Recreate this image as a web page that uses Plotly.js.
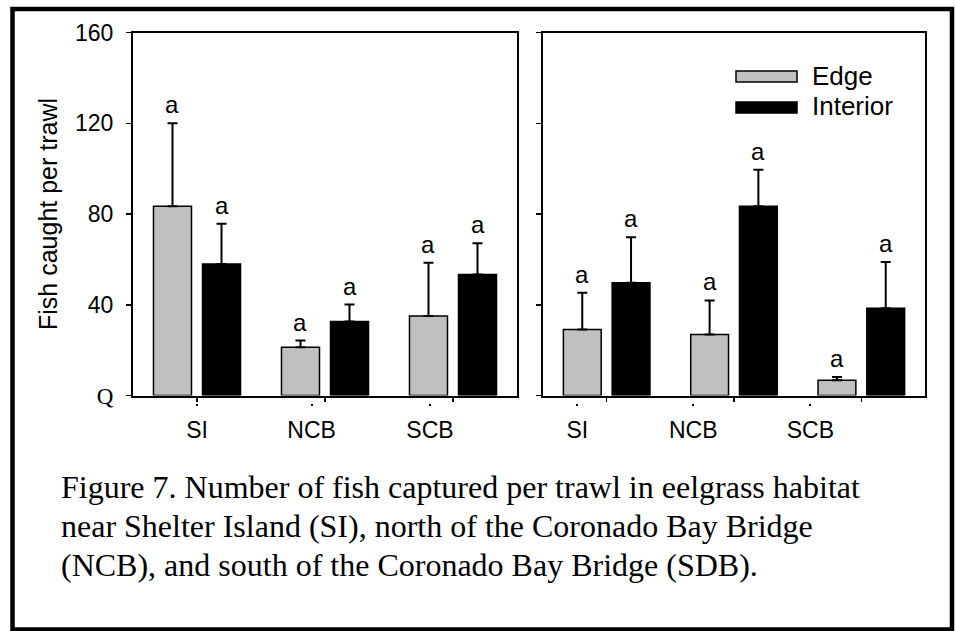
<!DOCTYPE html>
<html>
<head>
<meta charset="utf-8">
<script src="https://cdn.plot.ly/plotly-3.0.1.min.js"></script>
<style>
html,body{margin:0;padding:0;background:#fff;}
#chart{width:956px;height:631px;}
</style>
</head>
<body>
<div id="chart"></div>
<script>
// ---- data ----
const categories = ['SI', 'NCB', 'SCB'];
const seriesNames = ['Edge', 'Interior'];

const leftEdge = [83.4, 21.3, 35.0];
const leftEdgeErr = [36.6, 2.9, 23.5];
const leftInterior = [58.0, 32.6, 53.3];
const leftInteriorErr = [17.7, 7.5, 13.8];

const rightEdge = [29.1, 26.9, 6.7];
const rightEdgeErr = [16.2, 15.0, 1.5];
const rightInterior = [49.7, 83.4, 38.5];
const rightInteriorErr = [20.1, 16.1, 20.3];

const leftEdgeLetters = ['a', 'a', 'a'];
const leftInteriorLetters = ['a', 'a', 'a'];
const rightEdgeLetters = ['a', 'a', 'a'];
const rightInteriorLetters = ['a', 'a', 'a'];

const yTickVals = [0, 40, 80, 120, 160];
const yTickText = ['<span style="font-family:Liberation Serif">Q</span>', '40', '80', '120', '160'];

const captionLines = [
  'Figure 7. Number of fish captured per trawl in eelgrass habitat',
  'near Shelter Island (SI), north of the Coronado Bay Bridge',
  '(NCB), and south of the Coronado Bay Bridge (SDB).'
];

// ---- styling / layout constants ----
const W = 956, H = 631;
const SANS = 'Liberation Sans, Arial, sans-serif';
const SERIF = 'Liberation Serif, Times New Roman, serif';
const EDGE_COLOR = '#c0c0c0';
const INT_COLOR = '#000000';
const BAR_W = 0.297;
const EDGE_OFF = -0.34, INT_OFF = 0.043;
const EDGE_C = EDGE_OFF + BAR_W / 2, INT_C = INT_OFF + BAR_W / 2;
const leftLabelShift = [0, -0.105, -0.18];
const rightLabelShift = [-0.23, -0.32, -0.40];
const CAPTION_TOP = 467, CAPTION_STEP = 39;

const xIdx = categories.map((c, i) => i);
const px = v => v / W;
const py = v => (H - v) / H;

function barTrace(y, err, name, color, off, xa, ya) {
  return {
    type: 'bar', x: xIdx, y: y, name: name, xaxis: xa, yaxis: ya,
    width: BAR_W, offset: off, showlegend: false,
    marker: {color: color, line: {color: '#000', width: 1.5}},
    error_y: {type: 'data', array: err, arrayminus: err.map(() => 0), symmetric: false,
              color: '#000', thickness: 2, width: 5},
    hoverinfo: 'skip'
  };
}

const data = [
  barTrace(leftEdge, leftEdgeErr, seriesNames[0], EDGE_COLOR, EDGE_OFF, 'x', 'y'),
  barTrace(leftInterior, leftInteriorErr, seriesNames[1], INT_COLOR, INT_OFF, 'x', 'y'),
  barTrace(rightEdge, rightEdgeErr, seriesNames[0], EDGE_COLOR, EDGE_OFF, 'x2', 'y2'),
  barTrace(rightInterior, rightInteriorErr, seriesNames[1], INT_COLOR, INT_OFF, 'x2', 'y2'),
  {type: 'scatter', x: [], y: [], xaxis: 'x3', yaxis: 'y', showlegend: false, hoverinfo: 'skip'},
  {type: 'scatter', x: [], y: [], xaxis: 'x4', yaxis: 'y2', showlegend: false, hoverinfo: 'skip'}
];

const annotations = [];
function letters(vals, errs, labs, cOff, xr, yr) {
  vals.forEach((v, i) => {
    annotations.push({
      xref: xr, yref: yr, x: i + cOff, y: v + errs[i], text: labs[i],
      showarrow: false, yanchor: 'bottom', xanchor: 'center', yshift: 3,
      font: {family: SANS, size: 24, color: '#000'}
    });
  });
}
letters(leftEdge, leftEdgeErr, leftEdgeLetters, EDGE_C, 'x', 'y');
letters(leftInterior, leftInteriorErr, leftInteriorLetters, INT_C, 'x', 'y');
letters(rightEdge, rightEdgeErr, rightEdgeLetters, EDGE_C, 'x2', 'y2');
letters(rightInterior, rightInteriorErr, rightInteriorLetters, INT_C, 'x2', 'y2');

// legend text
annotations.push({xref: 'paper', yref: 'paper', x: px(810), y: py(76), text: seriesNames[0],
  showarrow: false, xanchor: 'left', yanchor: 'middle', font: {family: SANS, size: 26, color: '#000'}});
annotations.push({xref: 'paper', yref: 'paper', x: px(810), y: py(106), text: seriesNames[1],
  showarrow: false, xanchor: 'left', yanchor: 'middle', font: {family: SANS, size: 26, color: '#000'}});

// caption, one annotation per line
captionLines.forEach((line, k) => {
  annotations.push({xref: 'paper', yref: 'paper', x: px(59), y: py(CAPTION_TOP + k * CAPTION_STEP),
    text: line, showarrow: false, xanchor: 'left', yanchor: 'top', align: 'left',
    font: {family: SERIF, size: 32, color: '#000'}});
});

const shapes = [
  {type: 'rect', xref: 'paper', yref: 'paper', x0: px(12.5), x1: px(952), y0: py(629.5), y1: py(9),
   line: {color: '#000', width: 4.5}, fillcolor: 'rgba(0,0,0,0)'},
  {type: 'rect', xref: 'paper', yref: 'paper', x0: px(736), x1: px(797), y0: py(82), y1: py(71),
   line: {color: '#000', width: 1.5}, fillcolor: EDGE_COLOR},
  {type: 'rect', xref: 'paper', yref: 'paper', x0: px(736), x1: px(797), y0: py(113), y1: py(102),
   line: {color: '#000', width: 1.5}, fillcolor: INT_COLOR}
];

const yDomain = [py(395.5), py(32.5)];
const commonX = {
  range: [-0.5, 2.5], tickvals: xIdx, ticks: 'outside', ticklen: 4, tickwidth: 1.5, tickcolor: '#000',
  showticklabels: false, showline: true, linewidth: 2, linecolor: '#000', mirror: true,
  showgrid: false, zeroline: false, fixedrange: true
};
const commonY = {
  domain: yDomain, range: [0, 160], tickvals: yTickVals, ticktext: yTickText,
  ticks: 'outside', ticklen: 5, tickwidth: 1.5, tickcolor: '#000',
  showline: true, linewidth: 2, linecolor: '#000', mirror: true,
  showgrid: false, zeroline: false, fixedrange: true, ticklabelstandoff: 8,
  tickfont: {family: SANS, size: 23, color: '#000'}
};
const labelAxis = {
  range: [-0.5, 2.5], anchor: 'free', position: py(403),
  ticks: 'outside', ticklen: 2, tickwidth: 2, tickcolor: '#000',
  showline: false, showgrid: false, zeroline: false, fixedrange: true, ticklabelstandoff: 4,
  ticktext: categories, tickfont: {family: SANS, size: 23, color: '#000'}
};

const layout = {
  width: W, height: H,
  margin: {l: 0, r: 0, t: 0, b: 0, pad: 0},
  paper_bgcolor: '#fff', plot_bgcolor: '#fff',
  showlegend: false,
  barmode: 'overlay',
  xaxis: Object.assign({}, commonX, {domain: [px(133), px(517)], anchor: 'y'}),
  yaxis: Object.assign({}, commonY, {anchor: 'x',
    title: {text: 'Fish caught per trawl', font: {family: SANS, size: 25, color: '#000'}, standoff: 10}}),
  xaxis2: Object.assign({}, commonX, {domain: [px(543), px(925)], anchor: 'y2'}),
  yaxis2: Object.assign({}, commonY, {anchor: 'x2', showticklabels: false}),
  xaxis3: Object.assign({}, labelAxis, {overlaying: 'x', tickvals: xIdx.map(i => i + leftLabelShift[i])}),
  xaxis4: Object.assign({}, labelAxis, {overlaying: 'x2', tickvals: xIdx.map(i => i + rightLabelShift[i])}),
  annotations: annotations,
  shapes: shapes
};

Plotly.newPlot('chart', data, layout, {staticPlot: true, displayModeBar: false});
</script>
</body>
</html>
